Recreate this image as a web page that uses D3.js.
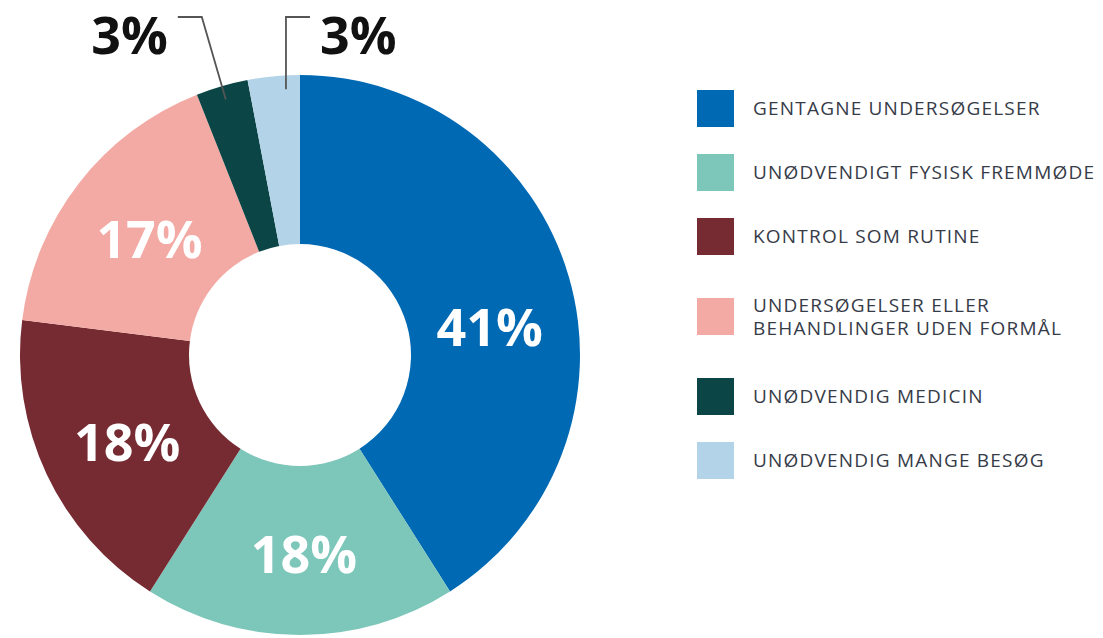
<!DOCTYPE html>
<html>
<head>
<meta charset="utf-8">
<script src="https://cdn.jsdelivr.net/npm/d3@7"></script>
<style>
  body { margin: 0; background: #fff; }
  text { font-family: "Open Sans", sans-serif; }
</style>
</head>
<body>
<svg id="chart"></svg>
<script>
var svg_width = 1103
var svg_height = 638

var categories = ["GENTAGNE UNDERSØGELSER", "UNØDVENDIGT FYSISK FREMMØDE", "KONTROL SOM RUTINE",
                  "UNDERSØGELSER ELLER|BEHANDLINGER UDEN FORMÅL", "UNØDVENDIG MEDICIN", "UNØDVENDIG MANGE BESØG"];
var values = [41, 18, 18, 17, 3, 3];
var colors = ["#0069b4", "#7dc6ba", "#762a32", "#f4aaa4", "#0b4546", "#b3d3e8"];
// the two small slices get their label outside, with a leader line
var outside = [false, false, false, false, true, true];

var cx = 300
var cy = 355
var outerR = 280
var innerR = 111

var svg = d3.select("#chart")
.attr("width", svg_width)
.attr("height", svg_height);

var data = categories.map(function(c, i) {
    return { name: c, value: values[i], color: colors[i], outside: outside[i] };
});

var pie = d3.pie()
.sort(null)
.value(function(d) { return d.value; });

var arc = d3.arc()
.innerRadius(innerR)
.outerRadius(outerR);

var g = svg.append("g")
.attr("transform", "translate(" + cx + "," + cy + ")");

var arcs = pie(data);

g.selectAll("path.slice")
.data(arcs)
.enter()
.append("path")
.attr("class", "slice")
.attr("d", arc)
.attr("fill", function(d) { return d.data.color; });

// inside labels (the big slice's label sits a bit lower in the original)
g.selectAll("text.inlabel")
.data(arcs.filter(function(d) { return !d.data.outside; }))
.enter()
.append("text")
.attr("class", "inlabel")
.attr("x", function(d) { return arc.centroid(d)[0] + (d.index == 0 ? 2 : 4); })
.attr("y", function(d) { return arc.centroid(d)[1] + (d.index == 0 ? 27 : 4); })
.attr("dy", "0.36em")
.attr("text-anchor", "middle")
.attr("fill", "#fff")
.attr("font-size", 52)
.attr("font-weight", 700)
.text(function(d) { return d.data.value + "%"; });

// outside labels with elbow leader lines
var lineTop = 17 - cy;
arcs.filter(function(d) { return d.data.outside; }).forEach(function(d, k) {
    var side = k == 0 ? -1 : 1;
    var ang = (d.startAngle + d.endAngle) / 2 + (k == 0 ? 0 : (d.endAngle - d.startAngle) * 0.22);
    var r0 = 266;
    var x0 = Math.sin(ang) * r0;
    var y0 = -Math.cos(ang) * r0;
    // left one follows the radius, right one goes straight up
    var x1 = k == 0 ? -lineTop * Math.tan(ang) : x0;
    var x2 = x1 + side * 24;
    g.append("polyline")
    .attr("points", [[x0, y0], [x1, lineTop], [x2, lineTop]].map(function(p) { return p.join(","); }).join(" "))
    .attr("fill", "none")
    .attr("stroke", "#555")
    .attr("stroke-width", 1.8);
    g.append("text")
    .attr("x", x2 + side * 10)
    .attr("y", lineTop + 37)
    .attr("text-anchor", side < 0 ? "end" : "start")
    .attr("fill", "#111")
    .attr("font-size", 52)
    .attr("font-weight", 700)
    .text(d.data.value + "%");
});

// legend
var legend = svg.append("g");
var yCursor = 90;
data.forEach(function(d) {
    var lines = d.name.split("|");
    var extra = (lines.length - 1) * 16;
    yCursor += extra;
    var item = legend.append("g")
    .attr("transform", "translate(697," + yCursor + ")");
    item.append("rect")
    .attr("width", 37)
    .attr("height", 37)
    .attr("fill", d.color);
    var t = item.append("text")
    .attr("x", 56)
    .attr("fill", "#363b48")
    .attr("font-size", 19)
    .attr("letter-spacing", 1.2);
    lines.forEach(function(l, j) {
        t.append("tspan")
        .attr("x", 56)
        .attr("y", 18.5 + (j - (lines.length - 1) / 2) * 23)
        .attr("dy", "0.36em")
        .text(l);
    });
    yCursor += 64 + extra;
});
</script>
</body>
</html>
